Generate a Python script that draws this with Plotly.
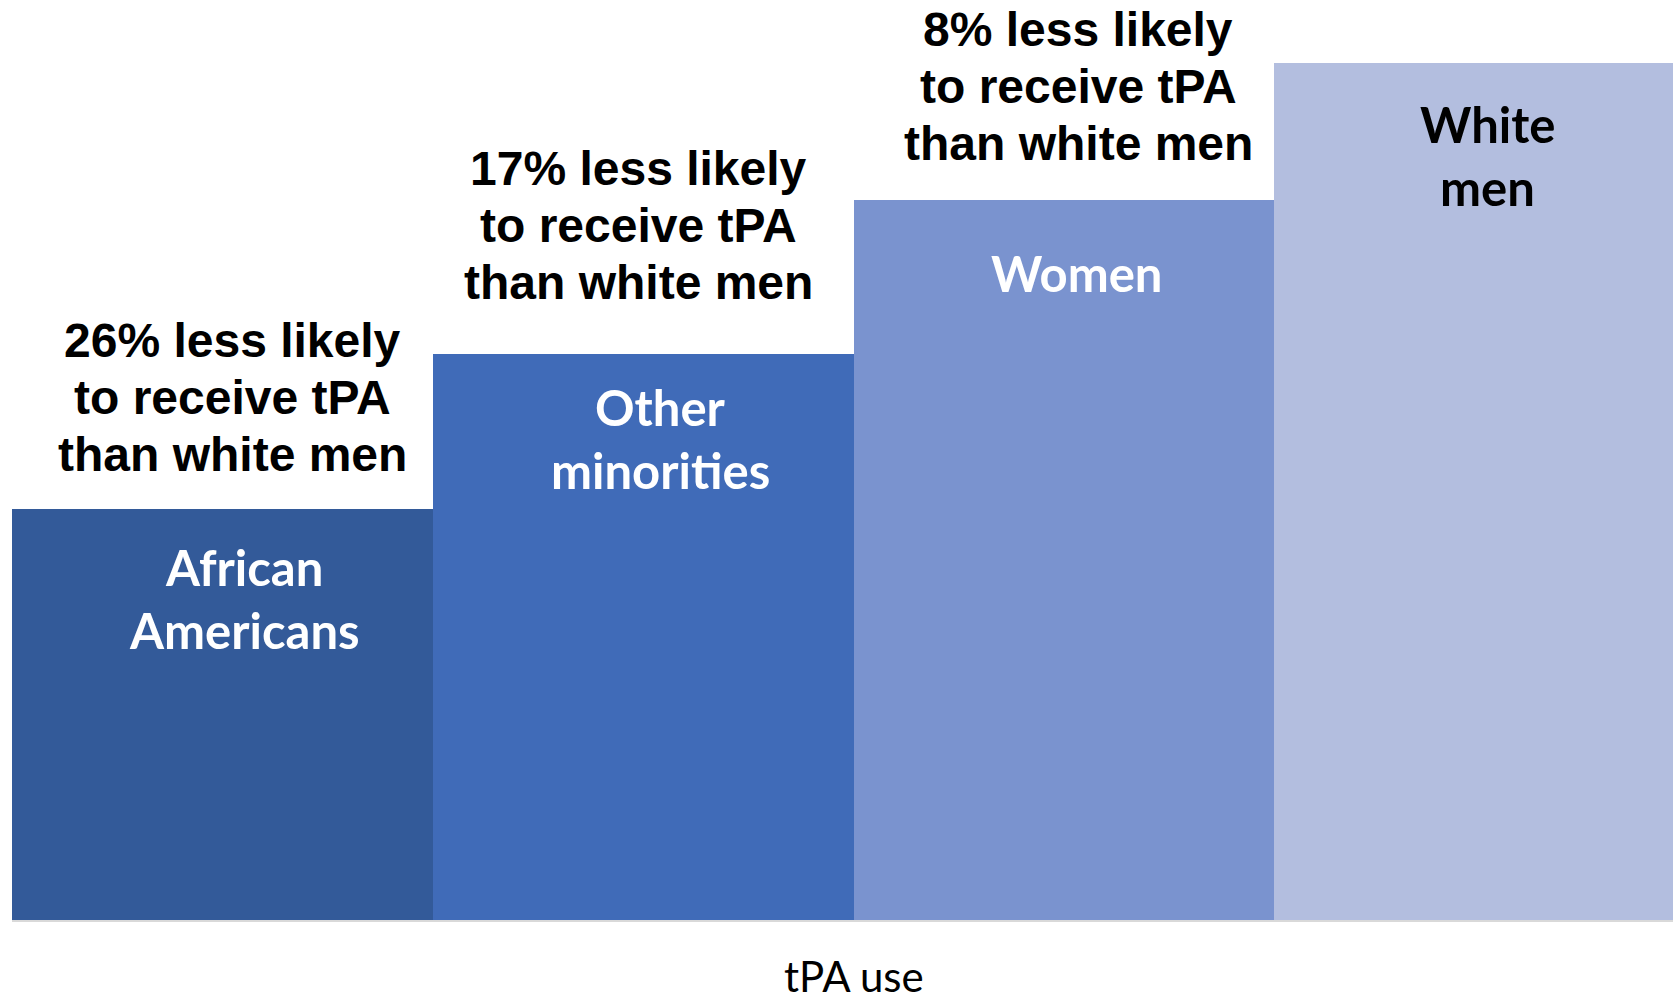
import plotly.graph_objects as go

# ---- data ----
groups = ["African Americans", "Other minorities", "Women", "White men"]
tpa_index = [48, 66, 84, 100]
bar_labels = [["African", "Americans"], ["Other", "minorities"], ["Women"], ["White", "men"]]
gap_text = [
    ["26% less likely", "to receive tPA", "than white men"],
    ["17% less likely", "to receive tPA", "than white men"],
    ["8% less likely", "to receive tPA", "than white men"],
    [],
]
axis_title = "tPA use"

# ---- styles ----
bar_colors = ["#335A99", "#406BB8", "#7A93CF", "#B3BEDF"]
label_colors = ["white", "white", "white", "black"]
label_dx = [22, 17, 13, 3]
label_dy = [58, 53, 73, 61]
gap_dx = [10, -5, 14, 0]
gap_dy = [54, 72, 57, 0]
LABEL_STEP = 63
GAP_STEP = 57

x_pos = list(range(len(groups)))

fig = go.Figure(
    go.Bar(
        x=x_pos,
        y=tpa_index,
        marker=dict(color=bar_colors, line=dict(width=0)),
        width=1,
        hoverinfo="skip",
    )
)

ann = []
for i in x_pos:
    for j, line in enumerate(bar_labels[i]):
        ann.append(dict(
            x=i, y=tpa_index[i], xref="x", yref="y",
            text="<b>" + line + "</b>", showarrow=False,
            xanchor="center", yanchor="middle",
            xshift=label_dx[i], yshift=-(label_dy[i] + j * LABEL_STEP),
            font=dict(family="Lato", size=49, color=label_colors[i]),
        ))
    n = len(gap_text[i])
    for j, line in enumerate(gap_text[i]):
        ann.append(dict(
            x=i, y=tpa_index[i], xref="x", yref="y",
            text="<b>" + line + "</b>", showarrow=False,
            xanchor="center", yanchor="middle",
            xshift=gap_dx[i], yshift=gap_dy[i] + (n - 1 - j) * GAP_STEP,
            font=dict(family="Liberation Sans, Arial, sans-serif", size=48, color="black"),
        ))

ann.append(dict(
    x=1.5, y=0, xref="x", yref="y", text=axis_title, showarrow=False,
    xanchor="center", yanchor="middle", yshift=-56,
    font=dict(family="Lato", size=42, color="black"),
))

fig.update_layout(
    width=1673, height=1001,
    margin=dict(l=12, r=0, t=0, b=81, pad=0),
    paper_bgcolor="white", plot_bgcolor="white",
    bargap=0, showlegend=False,
    annotations=ann,
    xaxis=dict(range=[-0.5, 3.447], showticklabels=False, ticks="",
               showgrid=False, zeroline=False, showline=True,
               linecolor="#D9D9D9", linewidth=2, fixedrange=True),
    yaxis=dict(range=[0, 107.35], showticklabels=False, ticks="",
               showgrid=False, zeroline=False, showline=False, fixedrange=True),
)

fig.write_html("out.html", config={"displayModeBar": False})
